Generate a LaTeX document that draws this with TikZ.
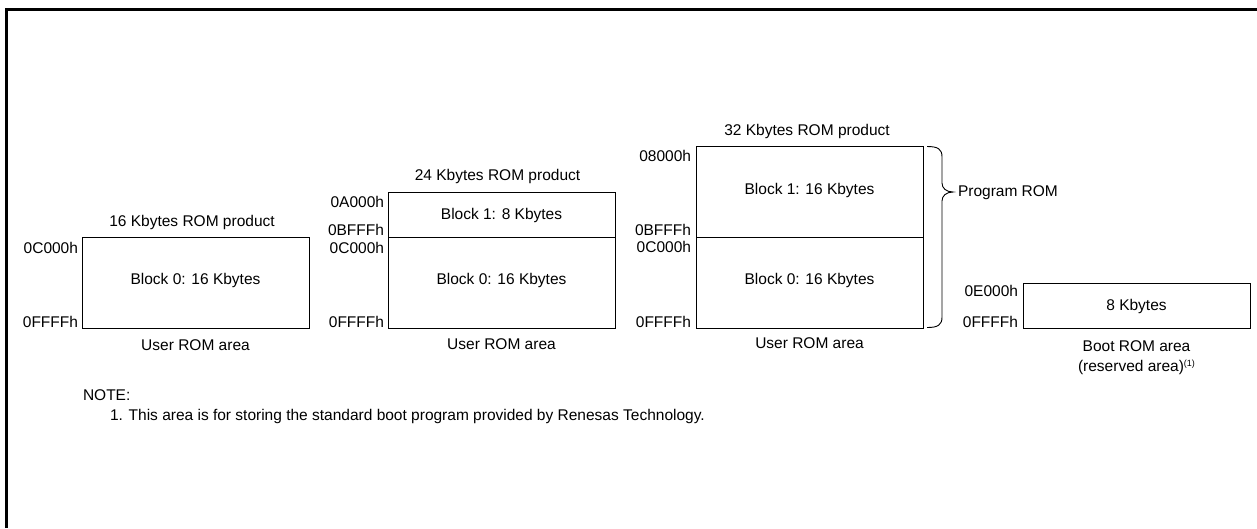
\documentclass[tikz,border=0pt]{standalone}
\usepackage{fontspec}
\setmainfont{Liberation Sans}
\begin{document}
\begin{tikzpicture}[x=1pt,y=-1pt,
  txt/.style={font=\fontsize{15.5}{18}\selectfont, inner sep=0pt, outer sep=0pt},
  ctxt/.style={txt, anchor=base},
  addr/.style={txt, anchor=base east},
  ltxt/.style={txt, anchor=base west},
  membox/.style={draw, line width=0.9pt, inner sep=0pt, outer sep=0pt, anchor=north west, minimum width=227},
  frameline/.style={line width=2.7pt, line join=miter}
]
\useasboundingbox (0,0) rectangle (1257,528);
% frame
\coordinate (fbl) at (6.3,528);
\coordinate (ftl) at (6.3,9.7);
\coordinate (ftr) at (1257,9.7);
\draw[frameline] (fbl) -- (ftl) -- (ftr);

% ---- 16 Kbytes product
\node[membox, minimum height=91] (d1b0) at (82,237) {};
\node[ctxt] (d1t) at (192,226) {16 Kbytes ROM product};
\node[ctxt] (d1b0t) at (195.5,284.5) {Block 0: 16 Kbytes};
\node[ctxt] (d1u) at (195.5,350) {User ROM area};
\node[addr] (d1a1) at (78,253.5) {0C000h};
\node[addr] (d1a2) at (78,327) {0FFFFh};

% ---- 24 Kbytes product
\node[membox, minimum height=45] (d2b1) at (388,192.5) {};
\node[membox, minimum height=90.5] (d2b0) at (388,237.5) {};
\node[ctxt] (d2t) at (497.5,180) {24 Kbytes ROM product};
\node[ctxt] (d2b1t) at (501.5,219.5) {Block 1: 8 Kbytes};
\node[ctxt] (d2b0t) at (501.5,284.5) {Block 0: 16 Kbytes};
\node[ctxt] (d2u) at (501.5,349.5) {User ROM area};
\node[addr] (d2a1) at (384,207.5) {0A000h};
\node[addr] (d2a2) at (384,235.5) {0BFFFh};
\node[addr] (d2a3) at (384,253) {0C000h};
\node[addr] (d2a4) at (384,327) {0FFFFh};

% ---- 32 Kbytes product
\node[membox, minimum height=91] (d3b1) at (696,146.5) {};
\node[membox, minimum height=90.5] (d3b0) at (696,237.5) {};
\node[ctxt] (d3t) at (807,135.7) {32 Kbytes ROM product};
\node[ctxt] (d3b1t) at (809.5,194.3) {Block 1: 16 Kbytes};
\node[ctxt] (d3b0t) at (809.5,284.5) {Block 0: 16 Kbytes};
\node[ctxt] (d3u) at (809.5,348.5) {User ROM area};
\node[addr] (d3a1) at (691,161) {08000h};
\node[addr] (d3a2) at (691,235) {0BFFFh};
\node[addr] (d3a3) at (691,252) {0C000h};
\node[addr] (d3a4) at (691,327) {0FFFFh};

% brace
\coordinate (brt) at (927,146.5);
\coordinate (brtip) at (953,192);
\coordinate (brb) at (927,327.5);
\draw[line width=0.9pt] (brt) .. controls (938,146.5) and (942,149) .. (942,157)
  -- (942,183) .. controls (942,188) and (946,192) .. (brtip)
  .. controls (946,192) and (942,196) .. (942,201)
  -- (942,317) .. controls (942,325) and (938,327.5) .. (brb);
\node[ltxt] (prom) at (958,196.5) {Program ROM};

% ---- Boot ROM
\node[membox, minimum height=45] (bb) at (1023,283) {};
\node[ctxt] (bbt) at (1136.5,310) {8 Kbytes};
\node[ctxt] (bbu1) at (1136.5,351) {Boot ROM area};
\node[ctxt] (bbu2) at (1136.5,371.5) {(reserved area)\raisebox{5pt}{\fontsize{9}{10}\selectfont(1)}};
\node[addr] (ba1) at (1018,296.5) {0E000h};
\node[addr] (ba2) at (1018,327.5) {0FFFFh};

% note
\node[ltxt] (note) at (83,400) {NOTE:};
\node[ltxt] (note1) at (110,420) {1. This area is for storing the standard boot program provided by Renesas Technology.};
\end{tikzpicture}
\end{document}
